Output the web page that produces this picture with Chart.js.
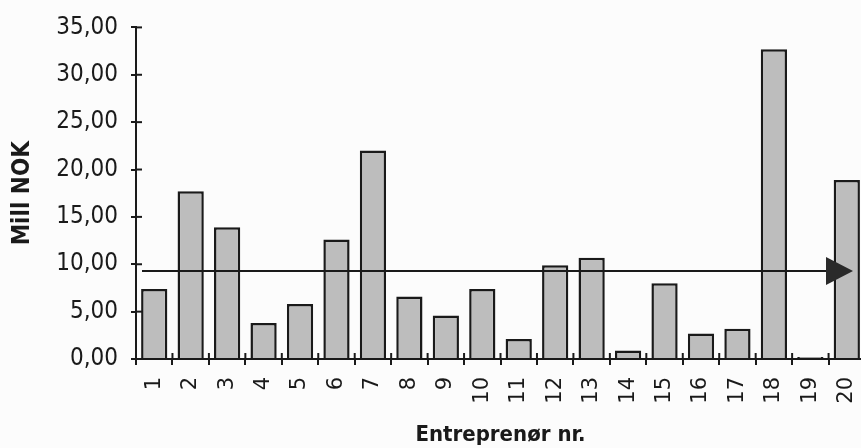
<!DOCTYPE html>
<html>
<head>
<meta charset="utf-8">
<title>Entreprenør nr.</title>
<script src="https://cdn.jsdelivr.net/npm/chart.js@4/dist/chart.umd.min.js"></script>
<style>
  html, body { margin: 0; padding: 0; background: #fcfcfc; overflow: hidden; }
  #wrap { width: 861px; height: 448px; overflow: hidden; }
  canvas { display: block; }
</style>
</head>
<body>
<div id="wrap"><canvas id="chartCanvas" width="884" height="448"></canvas></div>
<script>
// entreprenør 1..20, verdier i mill NOK
const entreprenorer = ['1', '2', '3', '4', '5', '6', '7', '8', '9', '10',
  '11', '12', '13', '14', '15', '16', '17', '18', '19', '20'];
const millNok = [7.4, 17.7, 13.9, 3.8, 5.8, 12.6, 22.0, 6.6, 4.6, 7.4,
  2.1, 9.9, 10.7, 0.9, 8.0, 2.7, 3.2, 32.7, 0.2, 18.9];
const yTicks = [0, 5, 10, 15, 20, 25, 30, 35];
const snittLinje = 9.3;

const ink = '#1a1a1a';

// krysstikk på aksene + snittlinje med pil
const aksePlugin = {
  id: 'akse',
  afterDatasetsDraw(chart) {
    const { ctx, chartArea, scales } = chart;
    const x = scales.x, y = scales.y;
    ctx.save();
    ctx.strokeStyle = ink;
    ctx.lineWidth = 2;

    // innover-delen av tikkene
    yTicks.forEach(v => {
      const py = y.getPixelForValue(v);
      ctx.beginPath();
      ctx.moveTo(chartArea.left, py);
      ctx.lineTo(chartArea.left + 6, py);
      ctx.stroke();
    });
    for (let i = 1; i < entreprenorer.length; i++) {
      const px = x.getPixelForValue(i - 0.5);
      ctx.beginPath();
      ctx.moveTo(px, chartArea.bottom);
      ctx.lineTo(px, chartArea.bottom - 6);
      ctx.stroke();
    }

    // snitt
    const ly = y.getPixelForValue(snittLinje);
    const tip = chartArea.right - 12;
    const base = tip - 27;
    ctx.beginPath();
    ctx.moveTo(chartArea.left + 6, ly);
    ctx.lineTo(base + 2, ly);
    ctx.stroke();
    ctx.fillStyle = '#2a2a2a';
    ctx.beginPath();
    ctx.moveTo(base, ly - 14);
    ctx.lineTo(tip, ly);
    ctx.lineTo(base, ly + 14);
    ctx.closePath();
    ctx.fill();
    ctx.restore();
  }
};

const ctx = document.getElementById('chartCanvas').getContext('2d');
new Chart(ctx, {
  type: 'bar',
  data: {
    labels: entreprenorer,
    datasets: [{
      data: millNok,
      backgroundColor: '#bdbdbd',
      borderColor: ink,
      borderWidth: 2.5,
      barPercentage: 0.72,
      categoryPercentage: 1
    }]
  },
  options: {
    responsive: false,
    animation: false,
    layout: { padding: { top: 25, right: 0, bottom: 0, left: 0 } },
    plugins: {
      legend: { display: false },
      tooltip: { enabled: false }
    },
    scales: {
      x: {
        afterFit(scale) {
          scale.height = 89;
        },
        grid: { display: true, drawOnChartArea: false, drawTicks: true, tickLength: 6, color: ink, lineWidth: 2 },
        border: { display: true, color: ink, width: 2 },
        ticks: {
          color: ink,
          minRotation: 90,
          maxRotation: 90,
          padding: 12,
          font: { family: 'DejaVu Sans', size: 21 }
        },
        title: {
          display: true,
          text: 'Entreprenør nr.',
          color: ink,
          padding: { top: 4, bottom: 0 },
          font: { family: 'DejaVu Sans Condensed', weight: 'bold', size: 22 }
        }
      },
      y: {
        min: 0,
        max: 35,
        afterBuildTicks(scale) {
          scale.ticks = yTicks.map(v => ({ value: v }));
        },
        afterFit(scale) {
          scale.width = 136;
        },
        grid: { display: true, drawOnChartArea: false, drawTicks: true, tickLength: 5, color: ink, lineWidth: 2 },
        border: { display: true, color: ink, width: 2 },
        ticks: {
          color: ink,
          padding: 13,
          font: { family: 'DejaVu Sans Condensed', size: 24 },
          callback: v => v.toFixed(2).replace('.', ',')
        },
        title: {
          display: true,
          text: 'Mill NOK',
          color: ink,
          padding: { top: 8, bottom: 0 },
          font: { family: 'DejaVu Sans Condensed', weight: 'bold', size: 24 }
        }
      }
    }
  },
  plugins: [aksePlugin]
});
</script>
</body>
</html>
